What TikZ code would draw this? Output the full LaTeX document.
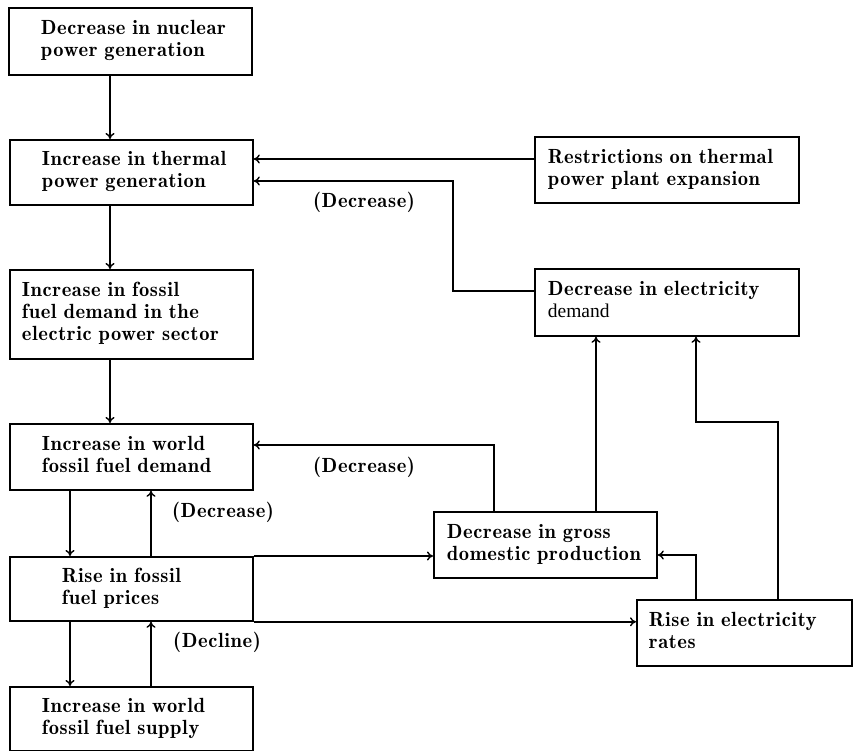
\documentclass[tikz,border=0pt]{standalone}
\usepackage{fontspec}
\newfontfamily\boxfont{lmromandemi10-regular}[Extension=.otf, LetterSpace=3, WordSpace=1.6]
\newfontfamily\tmsfont{Liberation Serif}
\usetikzlibrary{arrows.meta}
\newcommand{\bxtext}[2]{\hspace*{#1}\begin{tabular}{@{}l@{}}#2\end{tabular}}
\tikzset{
  box/.style 2 args={draw, line width=1.8pt, rectangle, inner xsep=0pt, inner ysep=0pt,
    anchor=north west, align=left, text width=#1, minimum height=#2,
    font=\boxfont\fontsize{20.5}{22}\selectfont},
  lbl/.style={inner sep=0pt, font=\boxfont\fontsize{20.5}{22}\selectfont},
  conn/.style={line width=1.4pt, -{To[length=6pt,width=9pt,line width=1.4pt]}},
}
\begin{document}
\begin{tikzpicture}[x=1pt,y=-1pt]
\useasboundingbox (0,0) rectangle (853,751);
% boxes
\node[box={243pt}{67pt}] (A) at (8,7) {\bxtext{32pt}{Decrease in nuclear\\power generation}};
\node[box={243pt}{65pt}] (B) at (9,139) {\bxtext{32pt}{Increase in thermal\\power generation}};
\node[box={243pt}{89pt}] (C) at (9,269) {\bxtext{12pt}{Increase in fossil\\fuel demand in the\\electric power sector}};
\node[box={243pt}{66pt}] (D) at (9,423) {\bxtext{32pt}{Increase in world\\fossil fuel demand}};
\node[box={243pt}{64pt}] (E) at (9,556) {\bxtext{52pt}{Rise in fossil\\fuel prices}};
\node[box={243pt}{64pt}] (F) at (9,686) {\bxtext{32pt}{Increase in world\\fossil fuel supply}};
\node[box={264pt}{66pt}] (G) at (534,136) {\bxtext{13pt}{Restrictions on thermal\\power plant expansion}};
\node[box={264pt}{67pt}] (H) at (534,268) {\bxtext{13pt}{Decrease in electricity\\{\tmsfont\fontsize{19.5}{22}\selectfont demand}}};
\node[box={223pt}{66pt}] (I) at (433,511) {\bxtext{13pt}{Decrease in gross\\domestic production}};
\node[box={215pt}{66pt}] (J) at (636,599) {\bxtext{12pt}{Rise in electricity\\rates}};
% helper coordinates
\coordinate (cL) at (70,0);
\coordinate (cM) at (110,0);
\coordinate (cR) at (151,0);
\coordinate (c453) at (453,0);
\coordinate (c494) at (494,0);
\coordinate (c596) at (596,0);
\coordinate (c696) at (696,0);
\coordinate (c778) at (778,0);
\coordinate (r159) at (0,159);
\coordinate (r181) at (0,181);
\coordinate (r291) at (0,291);
\coordinate (r422) at (0,422);
\coordinate (r445) at (0,445);
\coordinate (r555) at (0,555);
% connectors
\draw[conn] (A.south -| cM) -- (B.north -| cM);
\draw[conn] (B.south -| cM) -- (C.north -| cM);
\draw[conn] (C.south -| cM) -- (D.north -| cM);
\draw[conn] (D.south -| cL) -- (E.north -| cL);
\draw[conn] (E.north -| cR) -- (D.south -| cR);
\draw[conn] (E.south -| cL) -- (F.north -| cL);
\draw[conn] (F.north -| cR) -- (E.south -| cR);
\draw[conn] (G.west |- r159) -- (B.east |- r159);
\draw[conn] (H.west |- r291) -| (c453 |- r181) -- (B.east |- r181);
\draw[conn] (I.north -| c494) |- (D.east |- r445);
\draw[conn] (I.north -| c596) -- (H.south -| c596);
\draw[conn] (J.north -| c696) |- (I.east |- r555);
\draw[conn] (J.north -| c778) |- (c696 |- r422) -- (H.south -| c696);
\draw[conn] (E.north east) -- (I.west |- E.north east);
\draw[conn] (E.south east) -- (J.west |- E.south east);
% labels
\node[lbl] (l1) at (364,202) {(Decrease)};
\node[lbl] (l2) at (364,467) {(Decrease)};
\node[lbl] (l3) at (223,512) {(Decrease)};
\node[lbl] (l4) at (217,642) {(Decline)};
\end{tikzpicture}
\end{document}
